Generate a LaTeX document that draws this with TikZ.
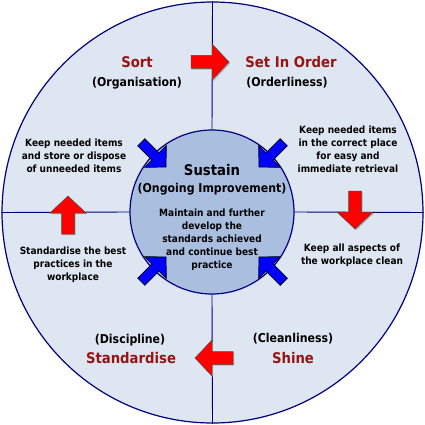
\documentclass[tikz,border=0pt]{standalone}
\usepackage{fontspec}
\newfontfamily\wheelfont{DejaVuSansCondensed-Bold.ttf}
\usetikzlibrary{positioning}

\definecolor{wheelfill}{RGB}{222,230,242}
\definecolor{hubfill}{RGB}{170,191,224}
\definecolor{rimblue}{RGB}{0,0,128}
\definecolor{titlered}{RGB}{150,20,20}
\definecolor{pushblue}{RGB}{0,0,255}

\tikzset{
	rim/.style={draw=rimblue, line width=1.2pt},
	divider/.style={draw=rimblue, line width=0.9pt},
	title/.style={font=\wheelfont\fontsize{14.7}{17}\selectfont, text=titlered},
	hubtitle/.style={font=\wheelfont\fontsize{14.7}{17}\selectfont},
	subtitle/.style={font=\wheelfont\fontsize{12.2}{14}\selectfont},
	note/.style={font=\wheelfont\fontsize{10}{13}\selectfont, align=center},
	redarrow/.style={fill=red, draw=black!70, line width=0.5pt},
	bluearrow/.style={fill=pushblue, draw=black, line width=0.7pt},
}

\newcommand{\redpush}[2]{%
	\fill[black!30, shift={#1}, xshift=1.2pt, yshift=-1.2pt, rotate=#2]
		(0,0) -- (-17,-18) -- (-17,-6.5) -- (-38,-6.5) -- (-38,6.5) -- (-17,6.5) -- (-17,18) -- cycle;
	\draw[redarrow, shift={#1}, rotate=#2]
		(0,0) -- (-17,-18) -- (-17,-6.5) -- (-38,-6.5) -- (-38,6.5) -- (-17,6.5) -- (-17,18) -- cycle;}
\newcommand{\bluepush}[2]{%
	\draw[bluearrow, shift={#1}, rotate=#2]
		(0,0) -- (-15,-15.5) -- (-15,-5) -- (-35,-5) -- (-35,5) -- (-15,5) -- (-15,15.5) -- cycle;}

\begin{document}
\begin{tikzpicture}[x=1pt, y=-1pt]
		\useasboundingbox (0,0) rectangle (425,425);
		\node[circle, minimum size=421pt, inner sep=0pt, rim, fill=wheelfill] (wheel) at (212.5,212.5) {};
		\node[circle, minimum size=164pt, inner sep=0pt, rim, fill=hubfill] (hub) at (212,212) {};
		\draw[divider] (wheel.north) -- (hub.north);
		\draw[divider] (wheel.south) -- (hub.south);
		\draw[divider] (wheel.west) -- (hub.west);
		\draw[divider] (wheel.east) -- (hub.east);

		\redpush{(229,62)}{0}
		\redpush{(355,229)}{-90}
		\redpush{(195,358)}{180}
		\redpush{(68,196)}{90}

		\bluepush{(166,167)}{-45}
		\bluepush{(259,167)}{-135}
		\bluepush{(166,257)}{45}
		\bluepush{(259,257)}{135}

		\node[title] (sort) at (137,62.5) {Sort};
		\node[subtitle] (organisation) at (137,83) {(Organisation)};
		\node[title] (setinorder) at (291,62.5) {Set In Order};
		\node[subtitle] (orderliness) at (287,83) {(Orderliness)};
		\node[subtitle] (discipline) at (130,340) {(Discipline)};
		\node[title] (standardise) at (131,358) {Standardise};
		\node[subtitle] (cleanliness) at (293,339) {(Cleanliness)};
		\node[title] (shine) at (293,358) {Shine};

		\node[hubtitle] (sustain) at (212,170) {Sustain};
		\node[subtitle] (ongoing) at (212,189) {(Ongoing Improvement)};
		\node[note] (hubnote) at (212,240) {Maintain and further\\develop the\\standards achieved\\and continue best\\practice};

		\node[note] (sortnote) at (74,156) {Keep needed items\\and store or dispose\\of unneeded items};
		\node[note] (ordernote) at (348,149.5) {Keep needed items\\in the correct place\\for easy and\\immediate retrieval};
		\node[note] (shinenote) at (352,255.5) {Keep all aspects of\\the workplace clean};
		\node[note] (standardnote) at (73,265) {Standardise the best\\practices in the\\workplace};
\end{tikzpicture}
\end{document}
